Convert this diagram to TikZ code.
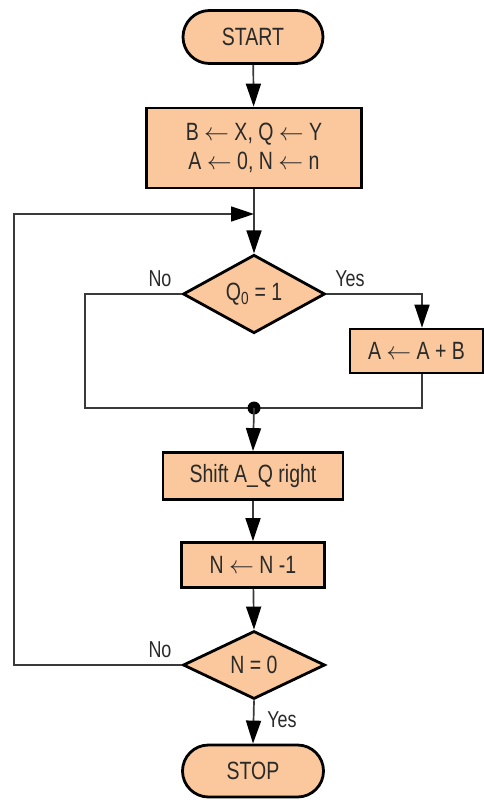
\documentclass[tikz,border=0pt]{standalone}
\usepackage{fontspec}
\setmainfont{Liberation Sans}[FakeStretch=0.78]
\usetikzlibrary{shapes.geometric,shapes.misc,arrows.meta,calc}
\definecolor{peach}{HTML}{FAC89C}
\definecolor{txt}{HTML}{2A2A2A}
\definecolor{wire}{HTML}{3A3A3A}
\begin{document}
\begin{tikzpicture}[x=1pt,y=-1pt,
  base/.style={draw=black,line width=2.8pt,fill=peach,text=txt,font=\fontsize{25}{28}\selectfont,inner sep=0pt,align=center},
  pill/.style={base,rounded rectangle},
  procbox/.style={base,rectangle},
  decision/.style={base,diamond},
  lbl/.style={text=txt,font=\fontsize{23}{26}\selectfont,inner sep=0pt},
  conn/.style={draw=wire,line width=1.7pt},
  arr/.style={conn,-{Triangle[length=23pt,width=15pt,fill=black,color=black]}}
]
\useasboundingbox (0,0) rectangle (484,800);
\fill[white] (0,0) rectangle (484,800);

\node[pill,minimum width=140pt,minimum height=53pt] (start) at (253,37) {START};
\node[procbox,minimum width=215pt,minimum height=80pt,font=\fontsize{25}{29}\selectfont] (init) at (254,148) {B $\leftarrow$ X, Q $\leftarrow$ Y\\A $\leftarrow$ 0, N $\leftarrow$ n};
\coordinate (top) at (254,214);
\node[decision,minimum width=142pt,minimum height=70pt] (q0) at (254,294) {Q\textsubscript{0} = 1};
\node[procbox,minimum width=133pt,minimum height=44pt] (add) at (416.5,351) {A $\leftarrow$ A + B};
\coordinate (join) at (254,408);
\node[procbox,minimum width=180pt,minimum height=47pt] (shift) at (253,476) {Shift A\_Q right};
\node[procbox,minimum width=143pt,minimum height=45pt] (dec) at (253,565) {N $\leftarrow$ N -1};
\node[decision,minimum width=142pt,minimum height=68pt] (n0) at (254,665) {N = 0};
\node[pill,minimum width=141pt,minimum height=52pt] (stop) at (253,771) {STOP};

\node[lbl] (noA) at (160,279) {No};
\node[lbl] (yesA) at (350,279) {Yes};
\node[lbl] (noB) at (160,650) {No};
\node[lbl] (yesB) at (282,720) {Yes};

\coordinate (lx) at (85,0);
\coordinate (rx) at (422,0);
\coordinate (loopx) at (14,0);

\draw[arr] (start) -- (init);
\draw[conn] (init.south) -- (top);
\draw[arr] (top) -- (q0.north);
\draw[arr] (q0.east) -| (rx |- add.north);
\draw[conn] (rx |- add.south) |- (join);
\draw[conn] (q0.west) -| (lx |- join) -- (join);
\fill[black] (join) circle (6.5pt);
\draw[arr] (join) -- (shift.north);
\draw[arr] (shift) -- (dec);
\draw[arr] (dec) -- (n0.north);
\draw[arr] (n0.south) -- (stop.north);
\draw[arr] (n0.west) -| (loopx |- top) -- (top);
\end{tikzpicture}
\end{document}
